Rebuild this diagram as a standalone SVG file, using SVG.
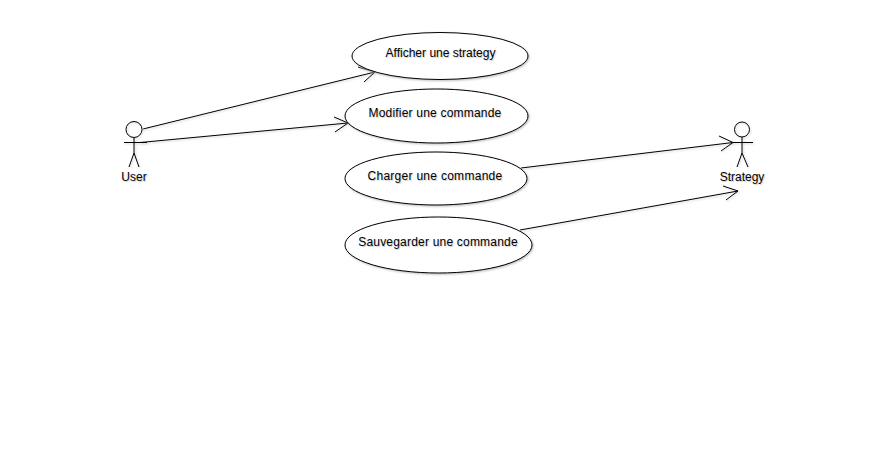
<svg xmlns="http://www.w3.org/2000/svg" width="877" height="450" viewBox="0 0 877 450">
<style>
.s{fill:none;stroke:#000;stroke-width:1;filter:drop-shadow(1px 1px 1px #ccc)}
.u{fill:#fff;stroke:#000;stroke-width:1;filter:drop-shadow(1px 1px 1px #bbb)}
text{font-family:"Liberation Sans",Arial,sans-serif;font-size:12px;fill:#000;text-anchor:middle;text-shadow:1px 1px 1px #ccc}
.w{letter-spacing:.2px}
</style>
<rect width="877" height="450" fill="#fff"/>
<g id="connectors">
<path class="s" d="M143 129L375 72M358 67L375 72L364 82"/>
<path class="s" d="M140 142.500L348 123M334 117L348 123L335 132"/>
<path class="s" d="M521 168L733 142.500M719 136L733 142.500L721 151"/>
<path class="s" d="M520 230L738 191M723 186L738 191L726 200"/>
</g>
<g id="user">
<circle class="s" cx="134" cy="129.500" r="8"/>
<path class="s" d="M134 137.500V153M124 142.500H147M134 153L129 167M134 153L139 167"/>
<text x="134" y="181">User</text>
</g>
<g id="strategy">
<circle class="s" cx="742" cy="129.500" r="7.500"/>
<path class="s" d="M742 137V153M732 142.500H753M742 153L737 167M742 153L748 167"/>
<text x="742" y="181">Strategy</text>
</g>
<g id="afficher">
<ellipse class="u" cx="440" cy="56" rx="88" ry="23.500"/>
<text x="440.500" y="57">Afficher une strategy</text>
</g>
<g id="modifier">
<ellipse class="u" cx="436.500" cy="116" rx="91.500" ry="27"/>
<text class="w" x="435" y="117">Modifier une commande</text>
</g>
<g id="charger">
<ellipse class="u" cx="436" cy="178.500" rx="91" ry="26.500"/>
<text class="w" x="435" y="180" style="letter-spacing:.28px">Charger une commande</text>
</g>
<g id="sauvegarder">
<ellipse class="u" cx="438.500" cy="245" rx="93.500" ry="28"/>
<text class="w" x="438" y="246">Sauvegarder une commande</text>
</g>
</svg>
